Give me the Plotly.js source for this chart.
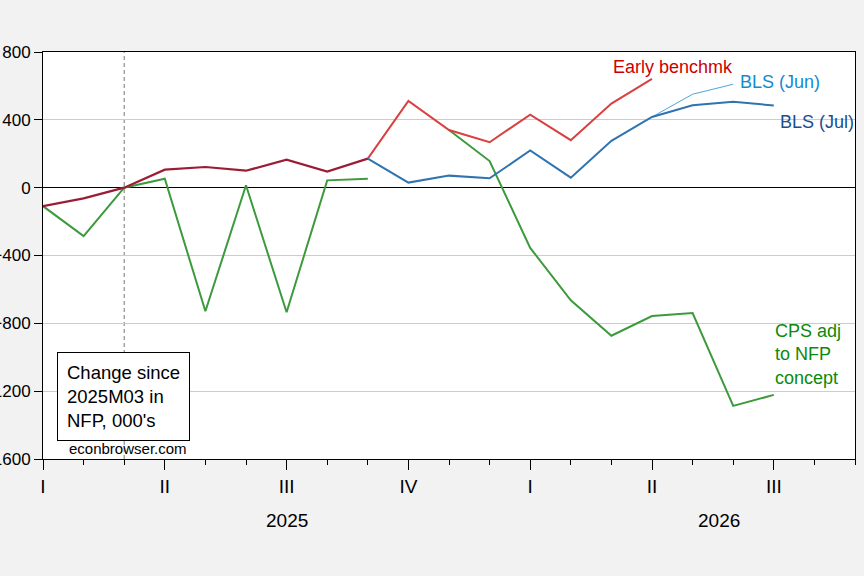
<!DOCTYPE html>
<html>
<head>
<meta charset="utf-8">
<script src="https://cdn.plot.ly/plotly-3.0.1.min.js"></script>
<style>
  html, body { margin: 0; padding: 0; background: #f2f2f2; }
  #chart { width: 864px; height: 576px; }
</style>
</head>
<body>
<div id="chart"></div>
<script>
// month index: 0 = 2025M01 ... 18 = 2026M07
var monthIdx = [0, 1, 2, 3, 4, 5, 6, 7, 8, 9, 10, 11, 12, 13, 14, 15, 16, 17, 18];

// change since 2025M03, thousands
var blsHist = [-109, -63, 0, 106, 122, 100, 165, 95, 171];
var cpsAdj = [-109, -286, 0, 53, -729, 14, -735, 43, 53, null, 340, 157, -355, -664, -873, -757, -739, -1287, -1222];
var earlyBench = [null, null, null, null, null, null, null, null, 171, 512, 340, 268, 431, 280, 496, 642];
var blsJul = [null, null, null, null, null, null, null, null, 171, 30, 71, 55, 219, 59, 276, 417, 486, 506, 485];
var blsJun = [null, null, null, null, null, null, null, null, null, null, null, null, null, null, null, 417, 551, 610];

// axis labels
var quarterPos = [0, 3, 6, 9, 12, 15, 18];
var quarterText = ['I', 'II', 'III', 'IV', 'I', 'II', 'III'];
var yearText = ['2025', '2026'];
var yearPos = [6, 16.65];

var font = 'Arial, "Liberation Sans", sans-serif';

function line(y, color, width) {
  return {
    x: monthIdx.slice(0, y.length),
    y: y,
    type: 'scatter',
    mode: 'lines',
    line: {color: color, width: width},
    connectgaps: false,
    hoverinfo: 'skip'
  };
}

var traces = [
  line(cpsAdj, '#3c9a3c', 2),
  line(earlyBench, '#d9403f', 2),
  line(blsJun, '#4aa6e0', 1),
  line(blsJul, '#2f74b0', 2),
  line(blsHist, '#9b1d35', 2.2)
];

var annotations = [
  {x: 14.0, y: 711, xref: 'x', yref: 'y', text: 'Early benchmk', showarrow: false,
   xanchor: 'left', yanchor: 'middle', font: {family: font, size: 18, color: '#cc0000'}},
  {x: 17.12, y: 625, xref: 'x', yref: 'y', text: 'BLS (Jun)', showarrow: false,
   xanchor: 'left', yanchor: 'middle', font: {family: font, size: 18, color: '#138bd0'}},
  {x: 18.1, y: 386, xref: 'x', yref: 'y', text: 'BLS (Jul)', showarrow: false,
   xanchor: 'left', yanchor: 'middle', font: {family: font, size: 18, color: '#1a4f8f'}},
  {x: 17.98, y: -985, xref: 'x', yref: 'y', text: 'CPS adj<br>to NFP<br>concept', showarrow: false,
   xanchor: 'left', yanchor: 'middle', align: 'left', font: {family: font, size: 18, color: '#0b8a0b'}},
  {x: 0.017, y: 0.262, xref: 'paper', yref: 'paper', text: 'Change since<br>2025M03 in<br>NFP, 000\'s',
   showarrow: false, xanchor: 'left', yanchor: 'top', align: 'left',
   bordercolor: '#000000', borderwidth: 1, borderpad: 9, bgcolor: '#ffffff',
   font: {family: font, size: 18.5, color: '#000000'}},
  {x: 0.029, y: 0.027, xref: 'paper', yref: 'paper', text: 'econbrowser.com', showarrow: false,
   xanchor: 'left', yanchor: 'middle', font: {family: font, size: 15, color: '#000000'}}
];

yearText.forEach(function(t, i) {
  annotations.push({x: yearPos[i], y: -0.152, xref: 'x', yref: 'paper', text: t, showarrow: false,
    xanchor: 'center', yanchor: 'middle', font: {family: font, size: 19, color: '#000000'}});
});

var layout = {
  width: 864,
  height: 576,
  paper_bgcolor: '#f2f2f2',
  plot_bgcolor: '#ffffff',
  showlegend: false,
  margin: {l: 43, r: 9, t: 52, b: 117},
  font: {family: font, color: '#000000'},
  xaxis: {
    range: [0, 20],
    showgrid: false,
    zeroline: false,
    showline: true,
    mirror: true,
    linecolor: '#000000',
    linewidth: 1,
    tickmode: 'array',
    tickvals: quarterPos,
    ticktext: quarterText,
    ticks: 'outside',
    ticklen: 10,
    tickcolor: '#000000',
    ticklabelstandoff: 0,
    tickfont: {family: font, size: 19, color: '#000000'},
    minor: {tickmode: 'linear', tick0: 0, dtick: 1, ticks: 'outside', ticklen: 5, tickcolor: '#000000', showgrid: false}
  },
  yaxis: {
    range: [-1600, 800],
    tickmode: 'linear',
    tick0: 0,
    dtick: 400,
    showgrid: true,
    gridcolor: '#cccccc',
    gridwidth: 1,
    zeroline: true,
    zerolinecolor: '#000000',
    zerolinewidth: 1,
    showline: true,
    mirror: true,
    linecolor: '#000000',
    linewidth: 1,
    ticks: 'outside',
    ticklen: 8,
    tickcolor: '#000000',
    tickfont: {family: font, size: 17, color: '#000000'}
  },
  shapes: [
    {type: 'line', xref: 'x', yref: 'paper', x0: 2, x1: 2, y0: 0, y1: 1,
     line: {color: '#777777', width: 1, dash: '4px,3px'}, layer: 'below'}
  ],
  annotations: annotations
};

Plotly.newPlot('chart', traces, layout, {staticPlot: true});
</script>
</body>
</html>
